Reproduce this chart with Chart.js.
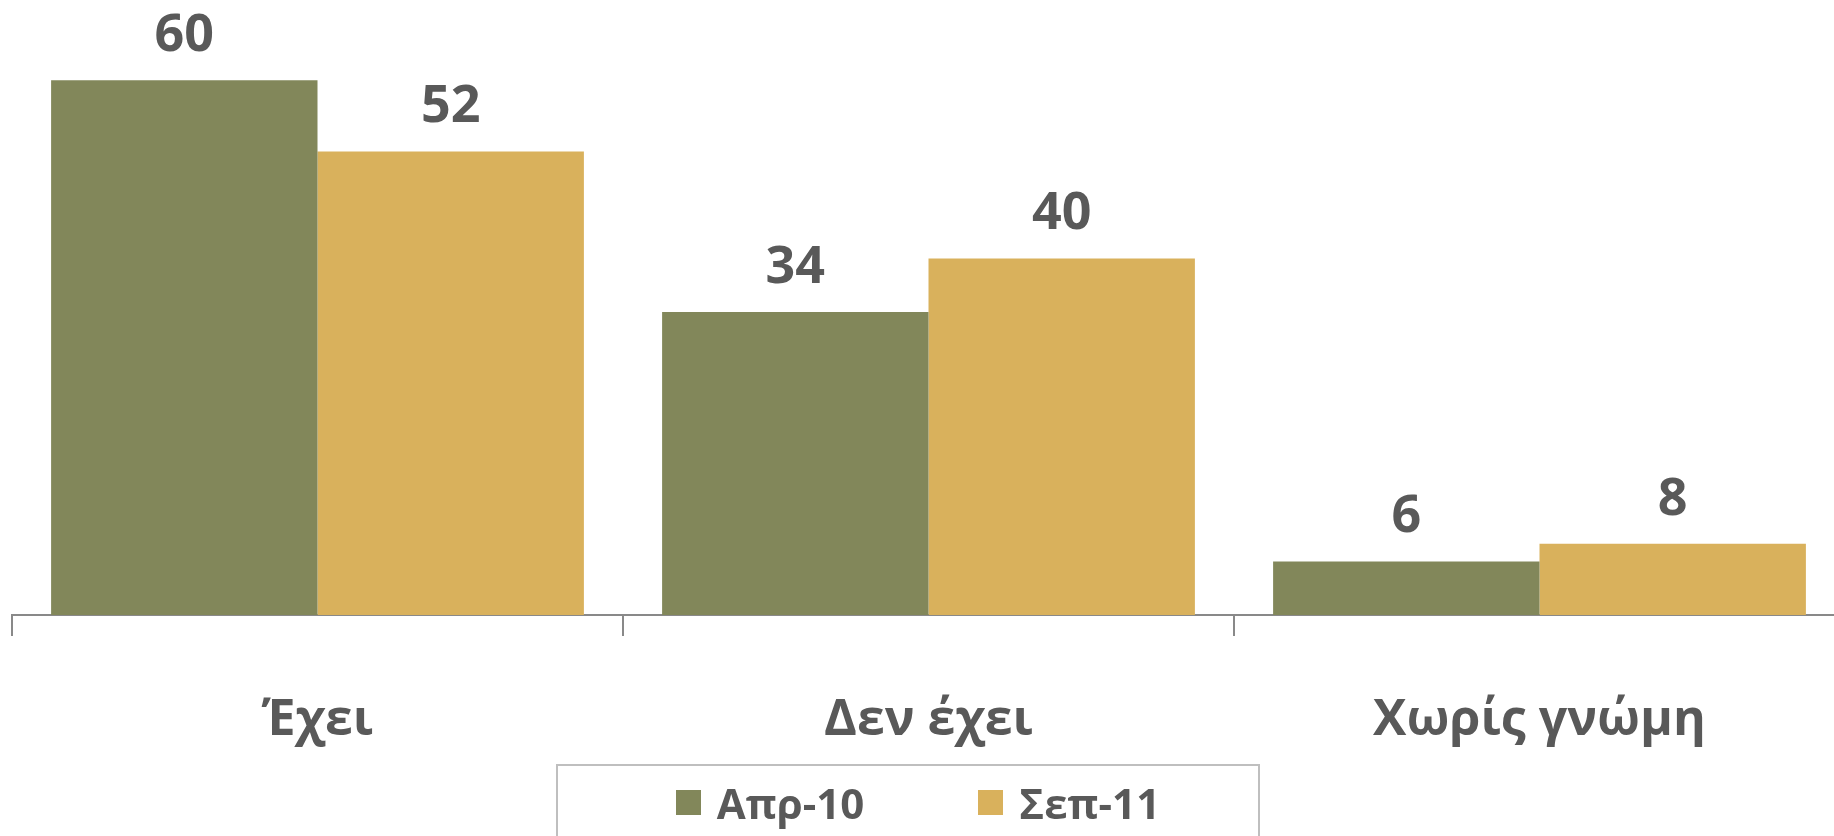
<!DOCTYPE html>
<html>
<head>
<meta charset="utf-8">
<script src="https://cdn.jsdelivr.net/npm/chart.js@4"></script>
<style>
    html, body { margin: 0; padding: 0; background: #fff; overflow: hidden; }
    #wrap { position: relative; width: 1834px; height: 836px; overflow: hidden; }
    #legend {
        position: absolute; left: 556px; top: 764px; width: 704px; height: 90px;
        border: 2px solid #bfbfbf; box-sizing: border-box;
        display: flex; justify-content: center; align-items: flex-start; padding: 8px 0 0 20px;
        font-family: 'Open Sans', sans-serif; font-weight: bold; font-size: 42px; color: #595959;
    }
    #legend .item { display: flex; align-items: center; margin: 0 57px; }
    #legend .box { width: 25px; height: 25px; margin-right: 16px; }
</style>
</head>
<body>
<div id="wrap">
    <!-- canvas a bit wider than the page: the plot runs past the right edge -->
    <canvas id="myChart" width="1845" height="836"></canvas>
    <div id="legend"></div>
</div>
<script>
const categories = ['Έχει', 'Δεν έχει', 'Χωρίς γνώμη']
const seriesNames = ['Απρ-10', 'Σεπ-11']
const apr10 = [60, 34, 6]
const sep11 = [52, 40, 8]
const colors = ['#82875a', '#d9b15c']

const textColor = '#595959'
const font = "'Open Sans', sans-serif"

const valueLabels = {
    id: 'valueLabels',
    afterDatasetsDraw(chart) {
        const ctx = chart.ctx
        ctx.save()
        ctx.font = 'bold 52px ' + font
        ctx.fillStyle = textColor
        ctx.textAlign = 'center'
        ctx.textBaseline = 'middle'
        chart.data.datasets.forEach((ds, i) => {
            chart.getDatasetMeta(i).data.forEach((bar, j) => {
                ctx.fillText(ds.data[j], bar.x, bar.y - 44)
            })
        })
        ctx.restore()
    }
}

const ctx = document.getElementById('myChart').getContext('2d')
const myChart = new Chart(ctx, {
    type: 'bar',
    data: {
        labels: categories,
        datasets: [
            { label: seriesNames[0], data: apr10, backgroundColor: colors[0] },
            { label: seriesNames[1], data: sep11, backgroundColor: colors[1] }
        ]
    },
    options: {
        responsive: false,
        animation: false,
        layout: { padding: { left: 12, right: 0, top: 0, bottom: 30 } },
        datasets: {
            bar: { categoryPercentage: 0.872, barPercentage: 1 }
        },
        scales: {
            x: {
                grid: {
                    display: true,
                    offset: true,
                    drawOnChartArea: false,
                    drawTicks: true,
                    tickLength: 21,
                    color: '#898989',
                    lineWidth: 2
                },
                border: { display: true, color: '#898989', width: 2 },
                ticks: {
                    padding: 55,
                    color: textColor,
                    font: { family: font, size: 50, weight: 'bold' }
                }
            },
            y: {
                display: false,
                min: 0,
                max: 69
            }
        },
        plugins: {
            legend: { display: false },
            tooltip: { enabled: false }
        }
    },
    plugins: [valueLabels]
})

// html legend built from the chart's datasets
const legendEl = document.getElementById('legend')
myChart.data.datasets.forEach(ds => {
    const item = document.createElement('div')
    item.className = 'item'
    const box = document.createElement('span')
    box.className = 'box'
    box.style.background = ds.backgroundColor
    const txt = document.createElement('span')
    txt.textContent = ds.label
    item.appendChild(box)
    item.appendChild(txt)
    legendEl.appendChild(item)
})
</script>
</body>
</html>
